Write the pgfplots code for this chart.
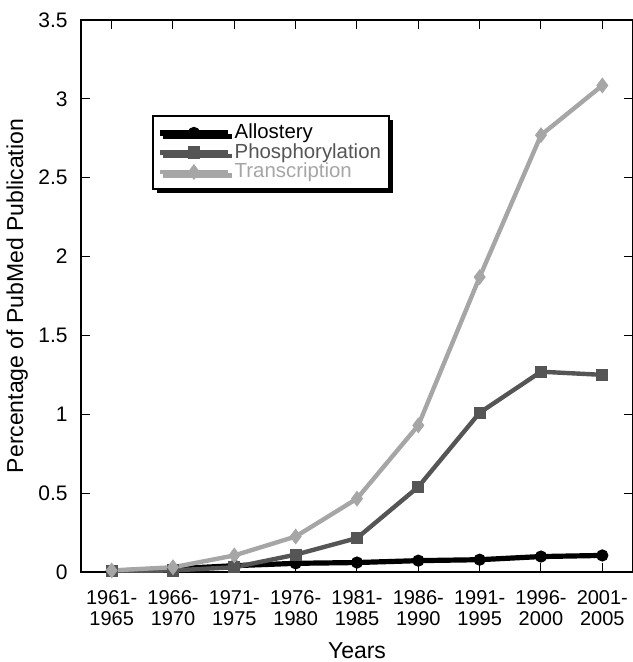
\documentclass[border=0pt]{standalone}
\usepackage{fontspec}
\setmainfont{Liberation Sans}
\usepackage{pgfplots}
\pgfplotsset{compat=1.18}
\usetikzlibrary{shadows}
\definecolor{phos}{HTML}{555555}
\definecolor{trans}{HTML}{A6A6A6}
\begin{document}
\fontsize{10.5pt}{12.5pt}\selectfont
\begin{tikzpicture}
\begin{axis}[
  name=ax,
  scale only axis,
  width=276pt, height=276pt,
  xmin=-0.5, xmax=8.5,
  ymin=0, ymax=3.5,
  xtick={0,...,8},
  xticklabels={{1961-\\1965},{1966-\\1970},{1971-\\1975},{1976-\\1980},{1981-\\1985},{1986-\\1990},{1991-\\1995},{1996-\\2000},{2001-\\2005}},
  x tick label style={align=center, font=\fontsize{10pt}{10.5pt}\selectfont, yshift=-5.5pt},
  ytick={0,0.5,1,1.5,2,2.5,3,3.5},
  yticklabels={0,0.5,1,1.5,2,2.5,3,3.5},
  y tick label style={font=\fontsize{10.5pt}{13pt}\selectfont, xshift=-3pt},
  tick align=inside,
  major tick length=4.5pt,
  tick style={black, line width=0.5pt},
  axis line style={line width=0.6pt},
  /pgf/number format/assume math mode=true,
  xlabel={Years},
  ylabel={Percentage of PubMed Publication},
  label style={font=\fontsize{11.5pt}{13pt}\selectfont},
  xlabel style={at={(axis description cs:0.5,0)}, anchor=base, inner sep=0pt, yshift=-43pt},
  ylabel style={yshift=-2pt},
  legend style={at={(rel axis cs:0.129,0.828)}, anchor=north west,
    draw=black, line width=1pt, fill=white,
    drop shadow={shadow xshift=1.8pt, shadow yshift=-1.8pt, fill=black, opacity=1},
    font=\fontsize{10.2pt}{11pt}\selectfont, row sep=-3.2pt,
    inner xsep=2pt, inner ysep=2pt, cells={anchor=west},
    /tikz/every even column/.append style={column sep=0pt}},
  legend image code/.code={
    \draw[#1, mark repeat=2, mark phase=2] plot coordinates {(-0.1cm,0cm) (0.5cm,0cm) (1.1cm,0cm)};
  },
]
\addplot[black, line width=2.6pt, mark=*, mark size=2.8pt, mark options={solid, line width=0.5pt}]
  coordinates {(0,0.005) (1,0.02) (2,0.04) (3,0.055) (4,0.06) (5,0.072) (6,0.078) (7,0.098) (8,0.105)};
\addlegendentry{Allostery}
\addplot[phos, line width=2.2pt, mark=square*, mark size=2.8pt, mark options={solid, line width=0.5pt}]
  coordinates {(0,0.005) (1,0.01) (2,0.03) (3,0.11) (4,0.215) (5,0.54) (6,1.01) (7,1.27) (8,1.25)};
\addlegendentry{\textcolor{phos}{Phosphorylation}}
\addplot[trans, line width=2.2pt, mark=diamond*, mark size=3.6pt, mark options={solid, line width=0.5pt}]
  coordinates {(0,0.01) (1,0.03) (2,0.105) (3,0.225) (4,0.465) (5,0.93) (6,1.87) (7,2.77) (8,3.085)};
\addlegendentry{\textcolor{trans}{Transcription}}
\end{axis}
\path (ax.south west) ++(-40.5pt,-45pt) coordinate (bl);
\path (ax.north east) ++(0pt,10pt) coordinate (tr);
\pgfresetboundingbox
\useasboundingbox (bl) rectangle (tr);
\end{tikzpicture}
\end{document}
